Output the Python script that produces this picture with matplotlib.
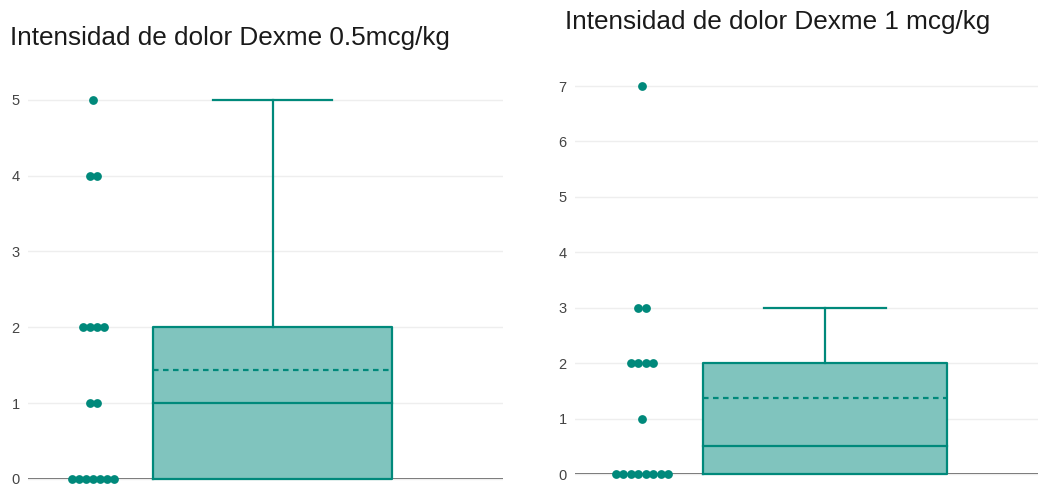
import matplotlib
matplotlib.use("Agg")
import matplotlib.pyplot as plt
import numpy as np

plt.rcParams['font.family'] = ['Liberation Sans', 'DejaVu Sans']

# data
titles = ["Intensidad de dolor Dexme 0.5mcg/kg", "Intensidad de dolor Dexme 1 mcg/kg"]
dexme_05 = [0, 0, 0, 0, 0, 0, 0, 1, 1, 2, 2, 2, 2, 4, 4, 5]
dexme_1 = [0, 0, 0, 0, 0, 0, 0, 0, 1, 2, 2, 2, 2, 3, 3, 7]
yticks_05 = [0, 1, 2, 3, 4, 5]
yticks_1 = [0, 1, 2, 3, 4, 5, 6, 7]

TEAL = "#00897b"
FILL = "#80c4be"

W, H = 1038, 484
fig = plt.figure(figsize=(W / 100, H / 100), dpi=100)


def panel(rect, vals, ticks, title, ylim, xlim, spread, title_xy):
    ax = fig.add_axes(rect)
    vals = np.array(vals, dtype=float)
    q1, med, q3 = np.percentile(vals, [25, 50, 75])
    iqr = q3 - q1
    hi = vals[vals <= q3 + 1.5 * iqr].max()
    lo = vals[vals >= q1 - 1.5 * iqr].min()
    mean = vals.mean()

    lw = 1.6
    # box
    ax.fill_between([-0.5, 0.5], q1, q3, color=FILL, zorder=2, lw=0)
    ax.plot([-0.5, 0.5, 0.5, -0.5, -0.5], [q1, q1, q3, q3, q1], color=TEAL, lw=lw, zorder=3)
    ax.plot([-0.5, 0.5], [med, med], color=TEAL, lw=lw, zorder=3)
    ax.plot([-0.5, 0.5], [mean, mean], color=TEAL, lw=lw, ls=(0, (2.5, 2)), zorder=3)
    ax.plot([0, 0], [q3, hi], color=TEAL, lw=lw, zorder=3)
    ax.plot([-0.25, 0.25], [hi, hi], color=TEAL, lw=lw, zorder=3)
    if lo < q1:
        ax.plot([0, 0], [lo, q1], color=TEAL, lw=lw, zorder=3)
        ax.plot([-0.25, 0.25], [lo, lo], color=TEAL, lw=lw, zorder=3)

    # all points, spread sideways
    uniq, counts = np.unique(vals, return_counts=True)
    nmax = counts.max()
    xs, ys = [], []
    for u, n in zip(uniq, counts):
        half = spread * (n - 1) / (nmax - 1)
        xs.extend(-0.75 + np.linspace(-half, half, n))
        ys.extend([u] * n)
    ax.scatter(xs, ys, s=40, color=TEAL, zorder=4, lw=0)

    ax.set_xlim(*xlim)
    ax.set_ylim(*ylim)
    ax.set_yticks(ticks)
    ax.set_xticks([])
    ax.grid(axis='y', color='#eeeeee', lw=1, zorder=0)
    ax.axhline(0, color='#444444', lw=1.2, zorder=1)
    for s in ax.spines.values():
        s.set_visible(False)
    ax.tick_params(axis='y', length=0, pad=6, labelsize=10.5, labelcolor='#444444')
    fig.text(title_xy[0] / W, 1 - title_xy[1] / H, title, fontsize=18.8, color='#1a1a1a',
             ha='left', va='center')
    return ax


panel([28 / W, 0, 475 / W, 404 / H], dexme_05, yticks_05, titles[0],
      (-0.066, 5.26), (-1.023, 0.964), 0.088, (10, 38))
panel([575 / W, 0, 463 / W, 414 / H], dexme_1, yticks_1, titles[1],
      (-0.18, 7.29), (-1.025, 0.873), 0.107, (565, 22))

fig.savefig("out.png", dpi=100)
